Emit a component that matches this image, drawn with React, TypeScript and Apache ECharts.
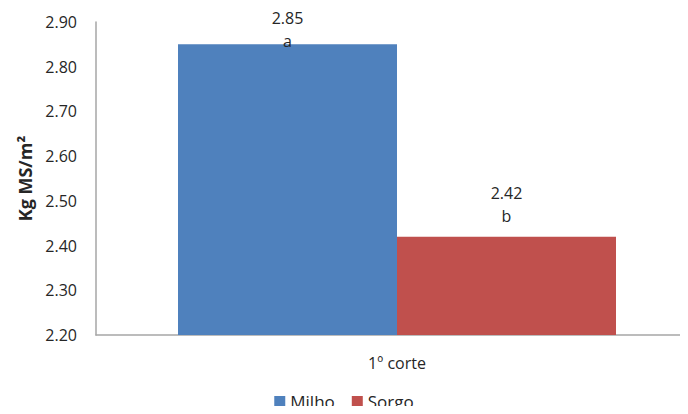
import React, { useEffect, useRef } from "react";
import * as echarts from "echarts";

const categories = ["1º corte"];
const seriesNames = ["Milho", "Sorgo"];
const milhoValues = [2.85];
const sorgoValues = [2.42];
const milhoLetters = ["a"];
const sorgoLetters = ["b"];
const yTicks = { min: 2.2, max: 2.9, interval: 0.1 };

const FONT = "'Open Sans', 'Noto Sans', sans-serif";
const TEXT = "#262626";

export default function App() {
  const ref = useRef<HTMLDivElement>(null);

  useEffect(() => {
    if (!ref.current) return;
    const chart = echarts.init(ref.current, undefined, { renderer: "svg" });

    const makeLabel = (letters: string[], distance: number) => ({
      show: true,
      position: "top",
      distance,
      formatter: (p: any) =>
        `{v|${Number(p.value).toFixed(2)}}\n{l|${letters[p.dataIndex]}}`,
      rich: {
        v: { fontSize: 16, fontFamily: FONT, color: TEXT, lineHeight: 23 },
        l: { fontSize: 16, fontFamily: FONT, color: TEXT, lineHeight: 23 },
      },
    });

    chart.setOption({
      animation: false,
      backgroundColor: "#ffffff",
      textStyle: { fontFamily: FONT },
      grid: {
        left: 96,
        top: 22,
        bottom: 79,
        width: 602,
        containLabel: false,
        outerBoundsMode: "none",
      },
      legend: {
        data: seriesNames,
        top: 388,
        left: "center",
        itemWidth: 11,
        itemHeight: 11,
        itemGap: 17,
        icon: "rect",
        textStyle: { fontSize: 17, fontFamily: FONT, color: TEXT },
      },
      xAxis: {
        type: "category",
        data: categories,
        axisLine: { show: true, lineStyle: { color: "#a6a6a6", width: 1.5 } },
        axisTick: { show: false },
        axisLabel: { fontSize: 16, fontFamily: FONT, color: TEXT, margin: 20 },
      },
      yAxis: {
        type: "value",
        min: yTicks.min,
        max: yTicks.max,
        interval: yTicks.interval,
        name: "Kg MS/m²",
        nameLocation: "middle",
        nameGap: 60,
        nameTextStyle: {
          fontSize: 18,
          fontWeight: "bold",
          fontFamily: FONT,
          color: TEXT,
        },
        splitLine: { show: false },
        axisLine: { show: true, lineStyle: { color: "#a6a6a6", width: 1.5 } },
        axisTick: { show: false },
        axisLabel: {
          fontSize: 16,
          fontFamily: FONT,
          color: TEXT,
          margin: 19,
          formatter: (v: number) => v.toFixed(2),
        },
      },
      series: [
        {
          name: seriesNames[0],
          type: "bar",
          data: milhoValues,
          barWidth: 219,
          barGap: "0%",
          itemStyle: { color: "#4f81bd" },
          label: makeLabel(milhoLetters, -8),
        },
        {
          name: seriesNames[1],
          type: "bar",
          data: sorgoValues,
          barWidth: 219,
          barGap: "0%",
          itemStyle: { color: "#c0504d" },
          label: makeLabel(sorgoLetters, 9),
        },
      ],
    });

    return () => chart.dispose();
  }, []);

  return <div ref={ref} style={{ width: 688, height: 414, margin: -8 }} />;
}
